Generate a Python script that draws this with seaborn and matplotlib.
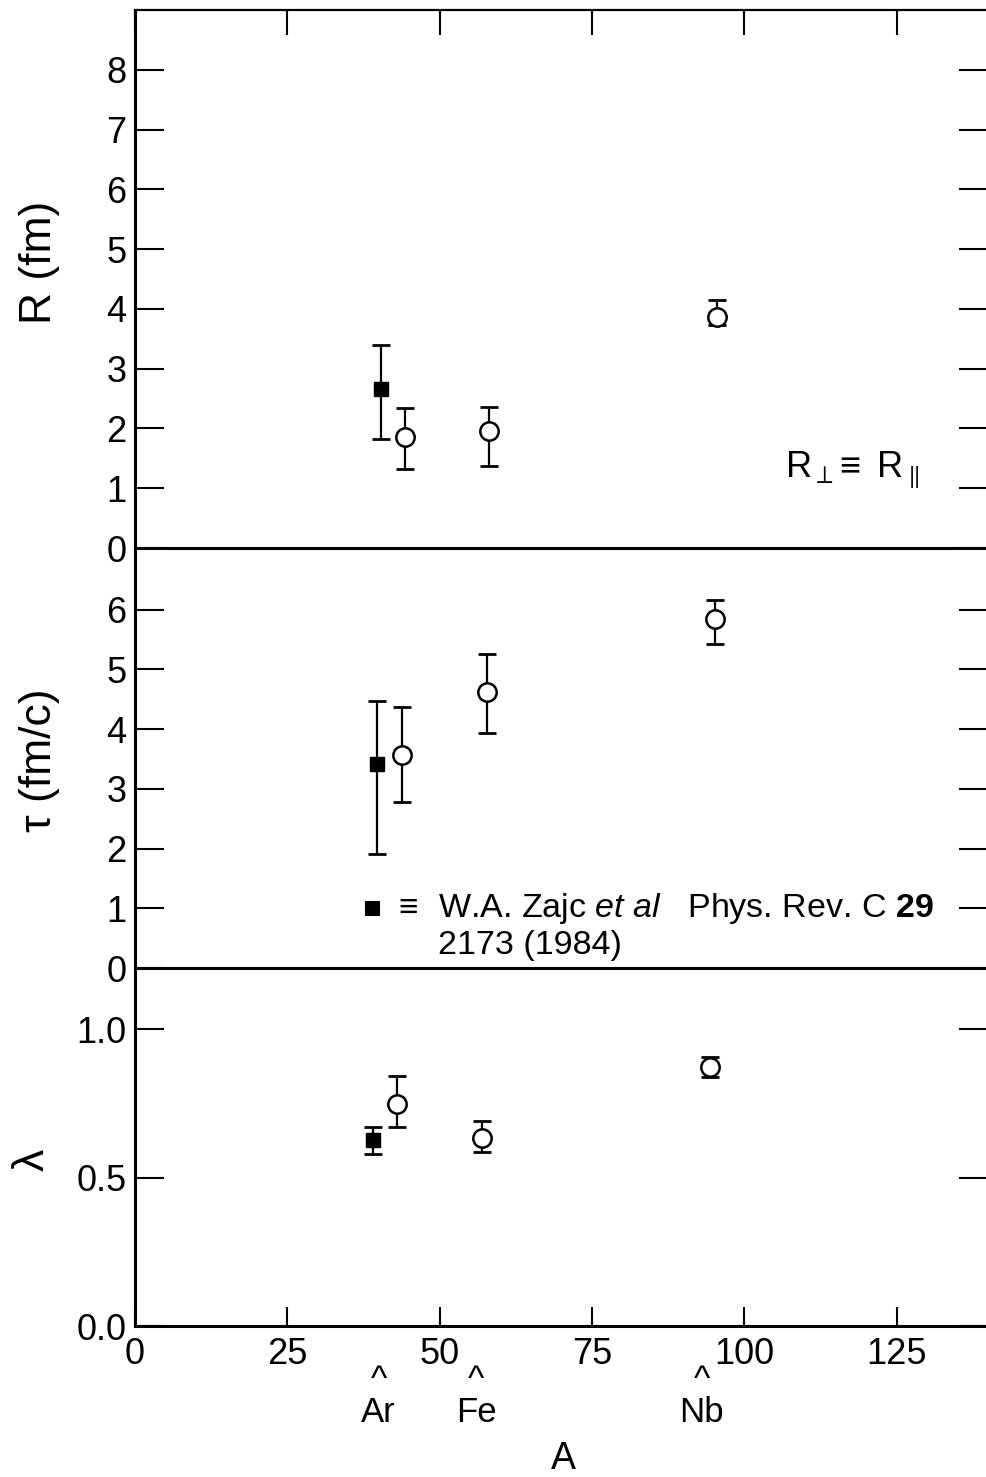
import matplotlib
matplotlib.use("Agg")
import matplotlib.pyplot as plt
import numpy as np
import seaborn as sns
from matplotlib.transforms import blended_transform_factory

sns.set_theme(style="white")
plt.rcParams['font.family'] = ['Liberation Sans', 'DejaVu Sans']
plt.rcParams['mathtext.fontset'] = 'custom'
plt.rcParams['mathtext.rm'] = 'Liberation Sans'
plt.rcParams['mathtext.it'] = 'Liberation Sans:italic'
plt.rcParams['mathtext.bf'] = 'Liberation Sans:bold'

# ---- radius R (fm) ----
R_A_this = [44.3, 58.1, 95.5]
R_this = [1.85, 1.95, 3.87]
R_lo_this = [1.33, 1.37, 3.74]
R_hi_this = [2.35, 2.36, 4.15]
R_A_zajc = [40.4]
R_zajc = [2.66]
R_lo_zajc = [1.82]
R_hi_zajc = [3.40]

# ---- lifetime tau (fm/c) ----
tau_A_this = [43.8, 57.7, 95.1]
tau_this = [3.57, 4.63, 5.84]
tau_lo_this = [2.78, 3.93, 5.43]
tau_hi_this = [4.38, 5.26, 6.16]
tau_A_zajc = [39.7]
tau_zajc = [3.41]
tau_lo_zajc = [1.91]
tau_hi_zajc = [4.47]

# ---- chaoticity lambda ----
lam_A_this = [43.0, 56.9, 94.4]
lam_this = [0.747, 0.632, 0.873]
lam_lo_this = [0.670, 0.587, 0.839]
lam_hi_this = [0.842, 0.689, 0.907]
lam_A_zajc = [39.1]
lam_zajc = [0.626]
lam_lo_zajc = [0.578]
lam_hi_zajc = [0.671]

x_ticks = [0, 25, 50, 75, 100, 125]
nuclei = ["Ar", "Fe", "Nb"]
nuclei_A = [40, 56, 93]

W, H = 987, 1477
fig = plt.figure(figsize=(W / 100, H / 100), dpi=100, facecolor="white")


def px_axes(left, top, right, bottom):
    return fig.add_axes([left / W, 1 - bottom / H, (right - left) / W, (bottom - top) / H])


ax_R = px_axes(135, 10, 988.3, 548)
ax_t = px_axes(135, 548, 988.3, 968)
ax_l = px_axes(135, 968, 988.3, 1326)


def draw_panel(ax, A, v, lo, hi, Az, vz, loz, hiz):
    v, lo, hi = np.array(v), np.array(lo), np.array(hi)
    vz, loz, hiz = np.array(vz), np.array(loz), np.array(hiz)
    ax.errorbar(A, v, yerr=[v - lo, hi - v], fmt='none', ecolor='black',
                elinewidth=1.6, capsize=6.3, capthick=2.0, zorder=2)
    ax.errorbar(Az, vz, yerr=[vz - loz, hiz - vz], fmt='none', ecolor='black',
                elinewidth=1.6, capsize=6.3, capthick=2.0, zorder=2)
    sns.scatterplot(x=A, y=v, ax=ax, marker='o', s=175, color='white',
                    edgecolor='black', linewidth=1.8, zorder=3)
    sns.scatterplot(x=Az, y=vz, ax=ax, marker='s', s=110, color='black',
                    edgecolor='black', linewidth=1.0, zorder=3)


draw_panel(ax_R, R_A_this, R_this, R_lo_this, R_hi_this,
           R_A_zajc, R_zajc, R_lo_zajc, R_hi_zajc)
draw_panel(ax_t, tau_A_this, tau_this, tau_lo_this, tau_hi_this,
           tau_A_zajc, tau_zajc, tau_lo_zajc, tau_hi_zajc)
draw_panel(ax_l, lam_A_this, lam_this, lam_lo_this, lam_hi_this,
           lam_A_zajc, lam_zajc, lam_lo_zajc, lam_hi_zajc)

ax_R.set_ylim(0, 9.004)
ax_t.set_ylim(0, 7.035)
ax_l.set_ylim(0, 1.2054)
ax_R.set_yticks(range(0, 9))
ax_t.set_yticks(range(0, 7))
ax_l.set_yticks([0.0, 0.5, 1.0])
ax_l.set_yticklabels(["0.0", "0.5", "1.0"])

for ax in (ax_R, ax_t, ax_l):
    ax.set_xlim(0, 140)
    ax.set_xticks(x_ticks)
    ax.set_xlabel("")
    ax.set_ylabel("")
    ax.set_facecolor("none")
    ax.tick_params(axis='y', direction='in', length=21, width=1.5, left=True,
                   right=True, labelleft=True, labelright=False, labelsize=26,
                   pad=6, color='black', labelcolor='black')
    for s in ax.spines.values():
        s.set_color('black')
        s.set_linewidth(2.2)
        s.set_zorder(5)
    ax.spines['right'].set_visible(False)

ax_R.spines['top'].set_linewidth(1.6)
ax_t.spines['top'].set_visible(False)
ax_l.spines['top'].set_visible(False)

ax_R.tick_params(axis='x', direction='in', top=True, bottom=False,
                 labelbottom=False, labeltop=False, length=18, width=1.5, color='black')
ax_t.tick_params(axis='x', top=False, bottom=False, labelbottom=False, labeltop=False)
ax_l.tick_params(axis='x', direction='in', top=False, bottom=True, labelbottom=True,
                 length=14, width=1.5, labelsize=26, pad=8, color='black',
                 labelcolor='black')

# axis titles
ax_R.set_ylabel("R (fm)", fontsize=32, color='black', va='center')
ax_R.yaxis.set_label_coords((40 - 135) / 853.3, (548 - 262) / 538)
ax_t.set_ylabel("τ (fm/c)", fontsize=32, color='black', va='center')
ax_t.yaxis.set_label_coords((40 - 135) / 853.3, (968 - 760) / 420)
ax_l.set_ylabel("λ", fontsize=32, color='black', va='center')
ax_l.yaxis.set_label_coords((32 - 135) / 853.3, (1326 - 1160) / 358)
ax_l.set_xlabel("A", fontsize=27, color='black', va='baseline')
ax_l.xaxis.set_label_coords((563 - 135) / 853.3, (1326 - 1469) / 358)

# target nuclei under the mass axis (caret above each symbol)
trans = blended_transform_factory(ax_l.transData, ax_l.transAxes)
for name, a in zip(nuclei, nuclei_A):
    ax_l.text(a, (1326 - 1429) / 358, "^\n" + name, transform=trans,
              ha='center', va='bottom', multialignment='center',
              linespacing=0.95, fontsize=25, color='black')

# radius annotation
ax_R.text(106.6, 1.30, r"R$_{\perp}\!\equiv$ R$_{\parallel}$", fontsize=26,
          ha='left', va='center', color='black')

# reference key in the lifetime panel
sns.scatterplot(x=[38.9], y=[1.0], ax=ax_t, marker='s', s=95, color='black',
                edgecolor='black', zorder=3)
ax_t.text(44.8, 1.0, "≡", fontsize=24, ha='center', va='center', color='black')
ax_t.text(49.7, 1.005, r"W.A. Zajc $\mathit{et\ al}$   Phys. Rev. C $\mathbf{29}$",
          fontsize=24.5, ha='left', va='center', color='black')
ax_t.text(49.7, 0.385, "2173 (1984)", fontsize=24.5, ha='left', va='center',
          color='black')

fig.savefig("out.png", dpi=100, facecolor="white")
